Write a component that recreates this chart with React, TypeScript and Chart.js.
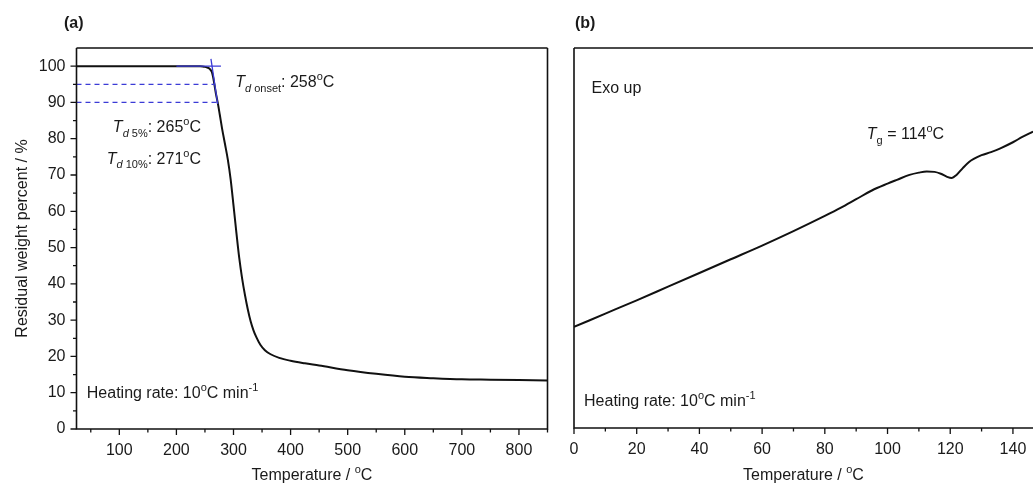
import React, { useEffect, useRef } from 'react';
import { Chart, registerables } from 'chart.js';

Chart.register(...registerables);

// ---------- DATA ----------
// (a) TGA curve
const TGA_TEMP = [25, 50, 100, 150, 200, 230, 240, 246, 250, 254, 258, 262, 264, 266.5, 269, 272.3, 276, 280, 285, 290, 295, 300, 305, 310, 315, 320, 325, 330, 335, 340, 347, 355, 365, 380, 400, 425, 450, 500, 550, 600, 650, 700, 750, 800, 850];
const TGA_WEIGHT = [100, 100, 100, 100, 100, 100, 99.95, 99.9, 99.8, 99.6, 99.3, 98.4, 97.2, 95, 92.6, 90, 86.6, 82.8, 78.6, 74.3, 68.8, 61.6, 54.2, 47.2, 41.6, 37.0, 33.0, 29.7, 27.2, 25.3, 23.2, 21.7, 20.6, 19.6, 18.8, 18.1, 17.5, 16.2, 15.2, 14.4, 14.0, 13.7, 13.6, 13.5, 13.4];

// (a) onset construction lines
const ONSET_FLAT_T = [200, 278];
const ONSET_FLAT_W = [100, 100];
const ONSET_STEEP_T = [260.5, 272.3];
const ONSET_STEEP_W = [102, 89.6];
const LOSS5_T = [25, 266.5];
const LOSS5_W = [95, 95];
const LOSS10_T = [25, 272.3];
const LOSS10_W = [90, 90];

// (b) DSC curve
const DSC_TEMP = [0, 10, 20, 30, 40, 50, 60, 70, 80, 85, 90, 95, 100, 103, 107, 110, 112.5, 115, 117, 119, 120.5, 122, 124, 126, 127.5, 130, 133, 136, 140, 143, 146.4];
const DSC_HEAT = [26.6, 30.1, 33.6, 37.2, 40.8, 44.4, 48.0, 51.8, 55.8, 57.9, 60.2, 62.5, 64.3, 65.3, 66.6, 67.2, 67.5, 67.4, 66.9, 66.1, 65.8, 66.6, 68.4, 70.0, 70.8, 71.8, 72.6, 73.6, 75.2, 76.6, 78.0];

// ticks
const TGA_X_TICKS = [100, 200, 300, 400, 500, 600, 700, 800];
const TGA_X_MINOR = [50, 150, 250, 350, 450, 550, 650, 750, 850];
const TGA_Y_TICKS = [0, 10, 20, 30, 40, 50, 60, 70, 80, 90, 100];
const TGA_Y_MINOR = [5, 15, 25, 35, 45, 55, 65, 75, 85, 95];
const DSC_X_TICKS = [0, 20, 40, 60, 80, 100, 120, 140];
const DSC_X_MINOR = [10, 30, 50, 70, 90, 110, 130];

// ---------- STYLE ----------
const FAMILY = '"Liberation Sans", Arial, Helvetica, sans-serif';
const TEXT_COLOR = '#1a1a1a';
const AXIS_COLOR = '#111111';
const BLUE = '#3b3bd6';

type Seg = { t: string; it?: boolean; sub?: boolean; sup?: boolean; bold?: boolean };

function drawRich(ctx: CanvasRenderingContext2D, segs: Seg[], x: number, y: number, size: number, align: 'left' | 'right' | 'center') {
  const fontFor = (s: Seg) => {
    const sz = s.sub || s.sup ? Math.round(size * 0.68) : size;
    return `${s.it ? 'italic ' : ''}${s.bold ? 'bold ' : ''}${sz}px ${FAMILY}`;
  };
  let total = 0;
  for (const s of segs) {
    ctx.font = fontFor(s);
    total += ctx.measureText(s.t).width;
  }
  let cx = align === 'left' ? x : align === 'right' ? x - total : x - total / 2;
  ctx.textAlign = 'left';
  ctx.textBaseline = 'alphabetic';
  for (const s of segs) {
    ctx.font = fontFor(s);
    const dy = s.sub ? size * 0.28 : s.sup ? -size * 0.42 : 0;
    ctx.fillText(s.t, cx, y + dy);
    cx += ctx.measureText(s.t).width;
  }
}

type Anno = { segs: Seg[]; x: number; y: number; align: 'left' | 'right' | 'center' };

const TEMP_TITLE: Seg[] = [{ t: 'Temperature / ' }, { t: 'o', sup: true }, { t: 'C' }];
const HEATING: Seg[] = [{ t: 'Heating rate: 10' }, { t: 'o', sup: true }, { t: 'C min' }, { t: '-1', sup: true }];

const ANNO_A: Anno[] = [
  { segs: [{ t: 'T', it: true }, { t: 'd', it: true, sub: true }, { t: ' onset', sub: true }, { t: ': 258' }, { t: 'o', sup: true }, { t: 'C' }], x: 303, y: 94.2, align: 'left' },
  { segs: [{ t: 'T', it: true }, { t: 'd', it: true, sub: true }, { t: ' 5%', sub: true }, { t: ': 265' }, { t: 'o', sup: true }, { t: 'C' }], x: 243, y: 81.8, align: 'right' },
  { segs: [{ t: 'T', it: true }, { t: 'd', it: true, sub: true }, { t: ' 10%', sub: true }, { t: ': 271' }, { t: 'o', sup: true }, { t: 'C' }], x: 243, y: 73.1, align: 'right' },
  { segs: HEATING, x: 43, y: 8.6, align: 'left' },
];

const ANNO_B: Anno[] = [
  { segs: [{ t: 'Exo up' }], x: 5.6, y: 88.1, align: 'left' },
  { segs: [{ t: 'T', it: true }, { t: 'g', sub: true }, { t: ' = 114' }, { t: 'o', sup: true }, { t: 'C' }], x: 93.4, y: 76, align: 'left' },
  { segs: HEATING, x: 3.2, y: 5.8, align: 'left' },
];

type Deco = {
  panel: string;
  panelX: number;
  xMajor: number[];
  xMinor: number[];
  yMajor: number[];
  yMinor: number[];
  rightBorder: boolean;
  yTitle: string | null;
  annos: Anno[];
};

function decoPlugin(d: Deco) {
  return {
    id: 'deco' + d.panel,
    afterDraw(chart: any) {
      const ctx: CanvasRenderingContext2D = chart.ctx;
      const { left, right, top, bottom } = chart.chartArea;
      const xs = chart.scales.x;
      const ys = chart.scales.y;
      ctx.save();
      // frame
      ctx.strokeStyle = AXIS_COLOR;
      ctx.lineWidth = 1.6;
      ctx.beginPath();
      ctx.moveTo(left, top);
      ctx.lineTo(right + (d.rightBorder ? 0 : 2), top);
      if (d.rightBorder) {
        ctx.moveTo(right, top);
        ctx.lineTo(right, bottom);
      }
      ctx.moveTo(left, top);
      ctx.lineTo(left, bottom);
      ctx.moveTo(left - 0.8, bottom);
      ctx.lineTo(right + (d.rightBorder ? 0.8 : 2), bottom);
      ctx.stroke();
      // ticks
      ctx.lineWidth = 1.3;
      ctx.beginPath();
      for (const v of d.xMajor) {
        const p = xs.getPixelForValue(v);
        ctx.moveTo(p, bottom);
        ctx.lineTo(p, bottom + 6);
      }
      for (const v of d.xMinor) {
        const p = xs.getPixelForValue(v);
        ctx.moveTo(p, bottom);
        ctx.lineTo(p, bottom + 3.5);
      }
      for (const v of d.yMajor) {
        const p = ys.getPixelForValue(v);
        ctx.moveTo(left, p);
        ctx.lineTo(left - 6, p);
      }
      for (const v of d.yMinor) {
        const p = ys.getPixelForValue(v);
        ctx.moveTo(left, p);
        ctx.lineTo(left - 3.5, p);
      }
      ctx.stroke();
      // texts
      ctx.fillStyle = TEXT_COLOR;
      for (const a of d.annos) {
        drawRich(ctx, a.segs, xs.getPixelForValue(a.x), ys.getPixelForValue(a.y), 16, a.align);
      }
      // panel label
      drawRich(ctx, [{ t: d.panel, bold: true }], d.panelX, 28, 16, 'left');
      // x title
      drawRich(ctx, TEMP_TITLE, (left + right) / 2, 480, 16, 'center');
      // y title
      if (d.yTitle) {
        ctx.save();
        ctx.translate(27, (top + bottom) / 2);
        ctx.rotate(-Math.PI / 2);
        drawRich(ctx, [{ t: d.yTitle }], 0, 0, 16, 'center');
        ctx.restore();
      }
      ctx.restore();
    },
  };
}

function line(xsArr: number[], ysArr: number[], color: string, width: number, dash: number[] = [], smooth = false) {
  return {
    data: xsArr.map((x, i) => ({ x, y: ysArr[i] })),
    borderColor: color,
    borderWidth: width,
    borderDash: dash,
    pointRadius: 0,
    fill: false,
    cubicInterpolationMode: smooth ? 'monotone' : 'default',
    tension: 0,
  };
}

function axisOpts(min: number, max: number, ticks: number[], pad: number, size: (s: any) => void, show: boolean) {
  return {
    type: 'linear',
    min,
    max,
    grid: { display: false, drawTicks: false },
    border: { display: false },
    afterBuildTicks: (s: any) => {
      s.ticks = ticks.map((v) => ({ value: v }));
    },
    afterFit: (s: any) => {
      size(s);
      s.paddingLeft = 0;
      s.paddingRight = 0;
      s.paddingTop = 0;
      s.paddingBottom = 0;
    },
    ticks: {
      display: show,
      padding: pad,
      autoSkip: false,
      maxRotation: 0,
      color: TEXT_COLOR,
      font: { family: FAMILY, size: 16 },
      callback: (v: any) => String(v),
    },
  };
}

export default function App() {
  const refA = useRef<HTMLCanvasElement>(null);
  const refB = useRef<HTMLCanvasElement>(null);

  useEffect(() => {
    const chartA = new Chart(refA.current as HTMLCanvasElement, {
      type: 'line',
      data: {
        datasets: [
          line(ONSET_STEEP_T, ONSET_STEEP_W, BLUE, 1.3),
          line(ONSET_FLAT_T, ONSET_FLAT_W, BLUE, 1.3),
          line(LOSS5_T, LOSS5_W, BLUE, 1.3, [5, 4]),
          line(LOSS10_T, LOSS10_W, BLUE, 1.3, [5, 4]),
          line(TGA_TEMP, TGA_WEIGHT, '#111111', 2, [], true),
        ] as any,
      },
      options: {
        responsive: false,
        animation: false,
        events: [],
        layout: { padding: { left: 0, right: 12.5, top: 48, bottom: 0 } },
        plugins: { legend: { display: false }, tooltip: { enabled: false } },
        scales: {
          x: axisOpts(25, 850, TGA_X_TICKS, 12, (s: any) => { s.height = 55; }, true),
          y: axisOpts(0, 105, TGA_Y_TICKS, 11, (s: any) => { s.width = 76.5; }, true),
        } as any,
      },
      plugins: [
        decoPlugin({
          panel: '(a)',
          panelX: 64,
          xMajor: TGA_X_TICKS,
          xMinor: TGA_X_MINOR,
          yMajor: TGA_Y_TICKS,
          yMinor: TGA_Y_MINOR,
          rightBorder: true,
          yTitle: 'Residual weight percent / %',
          annos: ANNO_A,
        }),
      ],
    } as any);

    const chartB = new Chart(refB.current as HTMLCanvasElement, {
      type: 'line',
      data: {
        datasets: [line(DSC_TEMP, DSC_HEAT, '#111111', 2, [], true)] as any,
      },
      options: {
        responsive: false,
        animation: false,
        events: [],
        layout: { padding: { left: 0, right: 0, top: 48, bottom: 0 } },
        plugins: { legend: { display: false }, tooltip: { enabled: false } },
        scales: {
          x: axisOpts(0, 146.4, DSC_X_TICKS, 12, (s: any) => { s.height = 56; }, true),
          y: axisOpts(0, 100, [], 0, (s: any) => { s.width = 14; }, false),
        } as any,
      },
      plugins: [
        decoPlugin({
          panel: '(b)',
          panelX: 15,
          xMajor: DSC_X_TICKS,
          xMinor: DSC_X_MINOR,
          yMajor: [],
          yMinor: [],
          rightBorder: false,
          yTitle: null,
          annos: ANNO_B,
        }),
      ],
    } as any);

    return () => {
      chartA.destroy();
      chartB.destroy();
    };
  }, []);

  return (
    <div style={{ position: 'fixed', left: 0, top: 0, width: 1033, height: 484, background: '#fff', overflow: 'hidden' }}>
      <canvas ref={refA} width={560} height={484} style={{ position: 'absolute', left: 0, top: 0, width: 560, height: 484 }} />
      <canvas ref={refB} width={473} height={484} style={{ position: 'absolute', left: 560, top: 0, width: 473, height: 484 }} />
    </div>
  );
}
